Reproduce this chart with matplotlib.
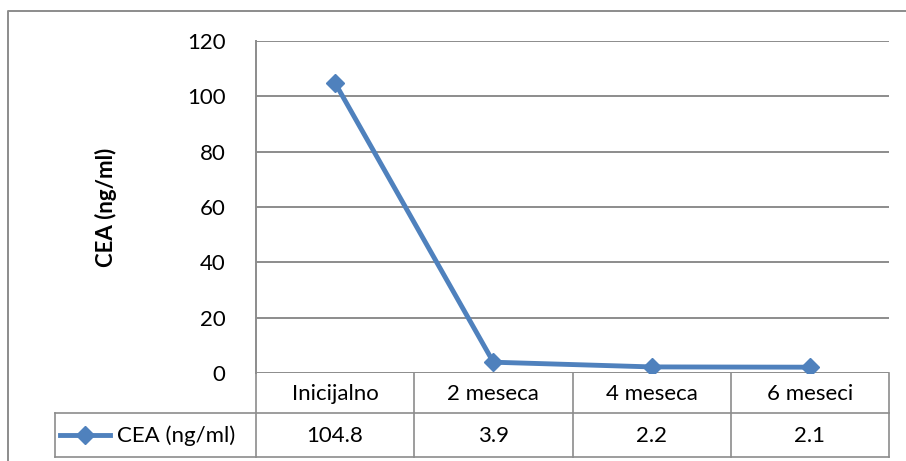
import matplotlib
matplotlib.use("Agg")
import matplotlib.pyplot as plt
from matplotlib.lines import Line2D

# Serum CEA over follow-up
categories = ["Inicijalno", "2 meseca", "4 meseca", "6 meseci"]
cea_values = [104.8, 3.9, 2.2, 2.1]
value_labels = ["104.8", "3.9", "2.2", "2.1"]
series_name = "CEA (ng/ml)"
y_ticks = [0, 20, 40, 60, 80, 100, 120]

FONT = "Lato"
FS = 16
BLUE = "#4F81BD"
GRID = "#8C8C8C"

W, H = 906, 461
fig = plt.figure(figsize=(W / 100, H / 100), dpi=100)
fig.patch.set_facecolor("white")

# pixel-based layout helpers
L, R, T, B = 256, 889, 41, 373
ax = fig.add_axes([L / W, 1 - B / H, (R - L) / W, (B - T) / H])
x = list(range(len(categories)))
ax.plot(x, cea_values, color=BLUE, lw=3.5, marker="D", ms=9,
        markeredgecolor=BLUE, markerfacecolor=BLUE, solid_joinstyle="round")
ax.set_xlim(-0.5, len(categories) - 0.5)
ax.set_ylim(0, 120)
ax.set_yticks(y_ticks)
ax.set_yticklabels([str(t) for t in y_ticks], fontfamily=FONT, fontsize=FS)
ax.set_xticks([])
ax.tick_params(axis="y", length=0, pad=22)
ax.yaxis.grid(True, color=GRID, lw=1.4)
ax.set_axisbelow(True)
for s in ["top", "right", "bottom"]:
    ax.spines[s].set_visible(False)
ax.spines["left"].set_color(GRID)
ax.spines["left"].set_linewidth(1.4)
ax.set_ylabel("CEA (ng/ml)", fontfamily=FONT, fontsize=FS, fontweight="bold",
              labelpad=50)

# overlay in pixel coordinates for the data table and chart frame
ov = fig.add_axes([0, 0, 1, 1], zorder=-1)
ov.set_xlim(0, W)
ov.set_ylim(H, 0)
ov.axis("off")

# chart frame
ov.plot([8, 8, W + 5], [H + 5, 11, 11], color="#8C8C8C", lw=1.4)

# data table
row1_top, row_mid, row_bot = B, 413, 457
leg_left = 55
ncol = len(categories)
col_w = (R - L) / ncol
col_edges = [L + i * col_w for i in range(ncol + 1)]
kw = dict(color=GRID, lw=1.2)
ov.plot([leg_left, R], [row_mid, row_mid], **kw)
ov.plot([leg_left, R], [row_bot, row_bot], **kw)
ov.plot([leg_left, leg_left], [row_mid, row_bot], **kw)
for xe in col_edges:
    ov.plot([xe, xe], [row1_top, row_bot], **kw)

for i, (cat, val) in enumerate(zip(categories, value_labels)):
    cx = L + (i + 0.5) * col_w
    ov.text(cx, (row1_top + row_mid) / 2 + 1, cat, ha="center", va="center",
            fontfamily=FONT, fontsize=FS)
    ov.text(cx, (row_mid + row_bot) / 2 + 1, val, ha="center", va="center",
            fontfamily=FONT, fontsize=FS)

# legend key inside the table
ky = (row_mid + row_bot) / 2
ov.add_line(Line2D([60, 110], [ky, ky], color=BLUE, lw=3.5))
ov.add_line(Line2D([85], [ky], color=BLUE, marker="D", ms=9))
ov.text(117, ky + 1, series_name, ha="left", va="center",
        fontfamily=FONT, fontsize=FS)

fig.savefig("out.png", dpi=100, facecolor="white")
